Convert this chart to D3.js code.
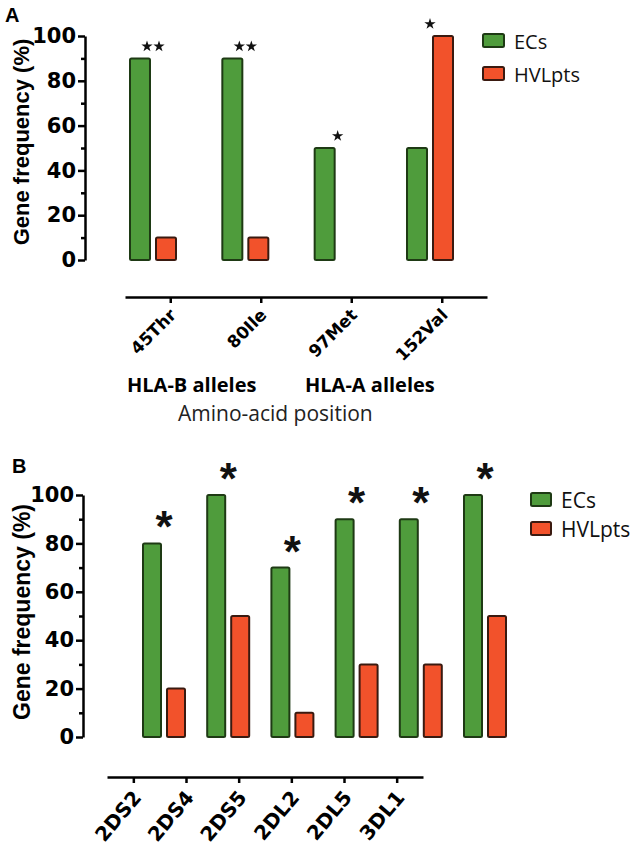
<!DOCTYPE html>
<html><head><meta charset="utf-8">
<script src="https://cdn.jsdelivr.net/npm/d3@7"></script>
<style>body{margin:0;background:#fff}svg{display:block}</style>
</head><body><svg id="c" width="641" height="858"></svg>
<script>
// ---- data ----
const seriesNames = ["ECs", "HVLpts"];
const seriesColors = ["#4f9c3c", "#f2522b"];
const seriesStrokes = ["#1e3a14", "#3a1a10"];

const catsA = ["45Thr", "80Ile", "97Met", "152Val"];
const ecsA = [90, 90, 50, 50];
const hvlA = [10, 10, 0, 100];
const sigA = [2, 2, 1, 1];   // number of stars

const catsB = ["2DS2", "2DS4", "2DS5", "2DL2", "2DL5", "3DL1"];
const ecsB = [80, 100, 70, 90, 90, 100];
const hvlB = [20, 50, 10, 30, 30, 50];
const sigB = ["*", "*", "*", "*", "*", "*"];

const yTicks = [0, 20, 40, 60, 80, 100];
const yMinor = [10, 30, 50, 70, 90];

const svg = d3.select("#c");
const tickFont = "'DejaVu Sans', sans-serif";

function panel(o) {
  const g = svg.append("g");
  const y = d3.scaleLinear().domain([0, 100]).range([o.y0, o.y100]);
  // y axis
  const ya = g.append("g").attr("transform", `translate(${o.ax},0)`)
    .call(d3.axisLeft(y).tickValues(yTicks).tickSize(7).tickSizeOuter(0).tickPadding(2));
  ya.select(".domain").attr("stroke", "#000").attr("stroke-width", 2.5);
  ya.selectAll(".tick line").attr("stroke", "#000").attr("stroke-width", 2.5);
  ya.selectAll(".tick text").attr("font-family", tickFont).attr("font-weight", "bold")
    .attr("font-size", 21).attr("fill", "#000");
  const ym = g.append("g").attr("transform", `translate(${o.ax},0)`)
    .call(d3.axisLeft(y).tickValues(yMinor).tickSize(4).tickFormat(""));
  ym.select(".domain").remove();
  ym.selectAll(".tick line").attr("stroke", "#000").attr("stroke-width", 2.5);

  // y label
  g.append("text").attr("transform", `translate(${o.ylx},${o.yly}) rotate(-90)`)
    .attr("text-anchor", "middle").attr("font-family", "'Liberation Sans', Arial, sans-serif")
    .attr("font-weight", "bold").attr("font-size", o.ylfs).text("Gene frequency (%)");

  // panel letter
  g.append("text").attr("x", o.lx).attr("y", o.ly).attr("font-family", "'Liberation Sans', Arial, sans-serif")
    .attr("font-weight", "bold").attr("font-size", 20).text(o.letter);

  // bars
  const x0 = d3.scalePoint().domain(o.cats).range(o.groupRange);
  const x1 = d3.scaleBand().domain(seriesNames).range([0, o.groupW]).paddingInner(o.inPad).paddingOuter(0);
  const rows = [];
  o.cats.forEach((c, i) => {
    [o.ecs[i], o.hvl[i]].forEach((v, j) => rows.push({ c, s: seriesNames[j], j, v }));
  });
  g.selectAll("rect.bar").data(rows.filter(d => d.v > 0)).join("rect").attr("class", "bar")
    .attr("x", d => x0(d.c) + x1(d.s)).attr("width", x1.bandwidth())
    .attr("y", d => y(d.v)).attr("height", d => y(0) - y(d.v))
    .attr("fill", d => seriesColors[d.j]).attr("stroke", d => seriesStrokes[d.j]).attr("stroke-width", 2)
    .attr("rx", 1.5);

  // significance marks
  o.cats.forEach((c, i) => {
    const cx = x0(c) + o.groupW / 2;
    const top = y(Math.max(o.ecs[i], o.hvl[i]));
    o.drawSig(g, cx, top, o.sig[i]);
  });

  // x axis (offset)
  const xa = d3.scalePoint().domain(o.cats).range(o.axisRange).padding(0.5);
  const xg = g.append("g").attr("transform", `translate(0,${o.axisY})`)
    .call(d3.axisBottom(xa).tickSize(6).tickSizeOuter(0).tickFormat(""));
  xg.select(".domain").attr("stroke", "#000").attr("stroke-width", 2.5);
  xg.selectAll(".tick line").attr("stroke", "#000").attr("stroke-width", 2.5);
  g.selectAll("text.xl").data(o.cats).join("text").attr("class", "xl")
    .attr("transform", d => `translate(${xa(d) + o.xlOff[0]},${o.axisY + o.xlOff[1]}) rotate(${o.xlRot})`)
    .attr("text-anchor", "end").attr("font-family", tickFont).attr("font-weight", "bold")
    .attr("font-size", o.xlfs).text(d => d);

  // legend
  const lg = g.append("g");
  seriesNames.forEach((s, j) => {
    lg.append("rect").attr("x", o.legX).attr("y", o.legY + j * o.legDy).attr("width", o.legW).attr("height", 13)
      .attr("fill", seriesColors[j]).attr("stroke", seriesStrokes[j]).attr("stroke-width", 2).attr("rx", 1.5);
    lg.append("text").attr("x", o.legX + o.legW + 10).attr("y", o.legY + j * o.legDy + 15)
      .attr("font-family", "'Open Sans', sans-serif").attr("font-size", o.legFs).attr("fill", "#111").text(s);
  });
  return { g, xa };
}

const starPath = d3.symbol().type(d3.symbolStar).size(40);

const A = panel({
  letter: "A", lx: 5, ly: 22,
  cats: catsA, ecs: ecsA, hvl: hvlA, sig: sigA,
  y0: 260, y100: 36, ax: 85,
  ylx: 29, yly: 142, ylfs: 22,
  groupRange: [130, 407], groupW: 46, inPad: 0.2308,
  axisRange: [125, 487], axisY: 297, xlOff: [7, 19], xlRot: -45, xlfs: 17,
  legX: 483, legY: 34, legDy: 33, legW: 21, legFs: 20,
  drawSig: (g, cx, top, n) => {
    for (let k = 0; k < n; k++) {
      const sx = cx + (k - (n - 1) / 2) * 12;
      g.append("path").attr("d", starPath).attr("transform", `translate(${sx},${top - 12})`).attr("fill", "#111");
    }
  }
});

const B = panel({
  letter: "B", lx: 12, ly: 473,
  cats: catsB, ecs: ecsB, hvl: hvlB, sig: sigB,
  y0: 737, y100: 495, ax: 83,
  ylx: 30, yly: 612, ylfs: 23,
  groupRange: [143, 464], groupW: 42, inPad: 0.25,
  axisRange: [107, 423], axisY: 777, xlOff: [9, 21], xlRot: -50, xlfs: 20,
  legX: 531, legY: 493, legDy: 29, legW: 20, legFs: 21,
  drawSig: (g, cx, top, s) => {
    g.append("text").attr("x", cx).attr("y", top - 26 + 0.57 * 44).attr("text-anchor", "middle")
      .attr("font-family", "'Liberation Sans', Arial, sans-serif").attr("font-weight", "bold")
      .attr("font-size", 44).attr("fill", "#111").text(s);
  }
});

// group labels under panel A
svg.append("text").attr("x", 127).attr("y", 392).attr("font-family", "'Open Sans', sans-serif")
  .attr("font-weight", "bold").attr("font-size", 20).text("HLA-B alleles");
svg.append("text").attr("x", 305).attr("y", 392).attr("font-family", "'Open Sans', sans-serif")
  .attr("font-weight", "bold").attr("font-size", 20).text("HLA-A alleles");
svg.append("text").attr("x", 178).attr("y", 421).attr("font-family", "'Open Sans', sans-serif")
  .attr("font-size", 21).attr("fill", "#222").text("Amino-acid position");
</script></body></html>
